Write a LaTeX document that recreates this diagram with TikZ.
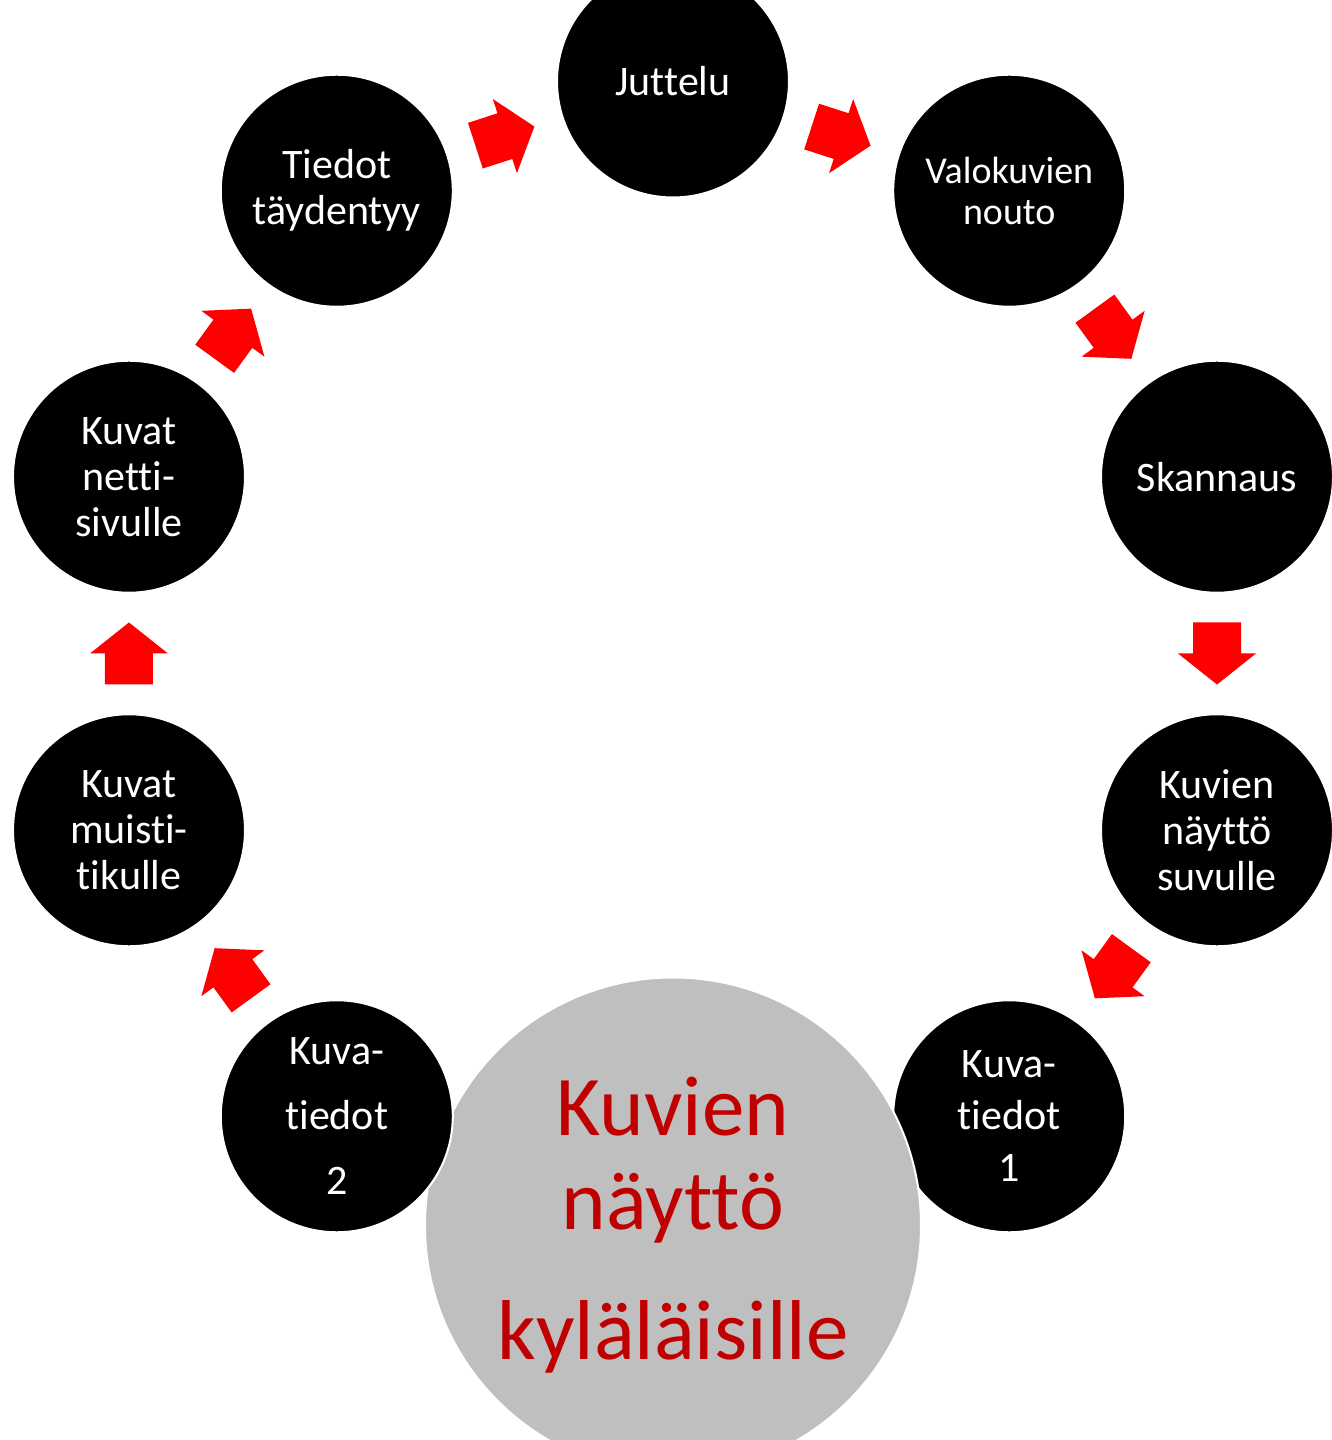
\documentclass[tikz,border=0pt]{standalone}
\usepackage{fontspec}
\setmainfont{Carlito}[Ligatures={NoCommon}]
\usetikzlibrary{calc}
\definecolor{titlered}{HTML}{C00000}
\definecolor{discgray}{HTML}{BFBFBF}
\definecolor{flowred}{HTML}{FF0000}
\tikzset{
  vaihe/.style={circle,fill=black,draw=white,line width=1pt,minimum size=116pt,
    inner sep=0pt,text=white,align=center,font=\fontsize{21}{23}\selectfont},
  kylanaytto/.style={circle,fill=discgray,draw=white,line width=1pt,minimum size=248pt,
    inner sep=0pt,text=titlered,align=center,font=\fontsize{42.5}{47}\selectfont},
  pics/flowarrow/.style={code={
    \fill[flowred] (-31,24) -- (0,24) -- (0,39) -- (31,0) -- (0,-39) -- (0,-24) -- (-31,-24) -- cycle;}}
}
\begin{document}
\begin{tikzpicture}[x=0.5pt,y=0.5pt]
  \clip (-673,-786.5) rectangle (659,653.5);
  \node[vaihe] (juttelu) at (90:572) {Juttelu};
  \node[vaihe,font=\fontsize{19}{20.5}\selectfont] (valo) at (54:572) {Valokuvien\\nouto};
  \node[vaihe] (skannaus) at (18:572) {Skannaus};
  \node[vaihe] (suku) at (-18:572) {Kuvien\\näyttö\\suvulle};
  \node[vaihe,font=\fontsize{21}{26}\selectfont] (tiedot1) at (-54:572) {Kuva-\\tiedot\\1};
  \node[kylanaytto] (kyla) at (-90:572) {Kuvien\\näyttö\\[18pt]kyläläisille};
  \node[vaihe,font=\fontsize{21}{32.5}\selectfont] (tiedot2) at (-126:572) {Kuva-\\tiedot\\2};
  \node[vaihe] (muisti) at (-162:572) {Kuvat\\muisti-\\tikulle};
  \node[vaihe] (netti) at (162:572) {Kuvat\\netti-\\sivulle};
  \node[vaihe] (taydentyy) at (126:572) {Tiedot\\täydentyy};
  % red arrows between the steps
  \foreach \a/\b/\r in {taydentyy/juttelu/18, juttelu/valo/-18, valo/skannaus/-54,
      skannaus/suku/-90, suku/tiedot1/-126, tiedot2/muisti/126, muisti/netti/90, netti/taydentyy/54}
    \path ($(\a)!0.5!(\b)$) pic[rotate=\r] {flowarrow};
\end{tikzpicture}
\end{document}
